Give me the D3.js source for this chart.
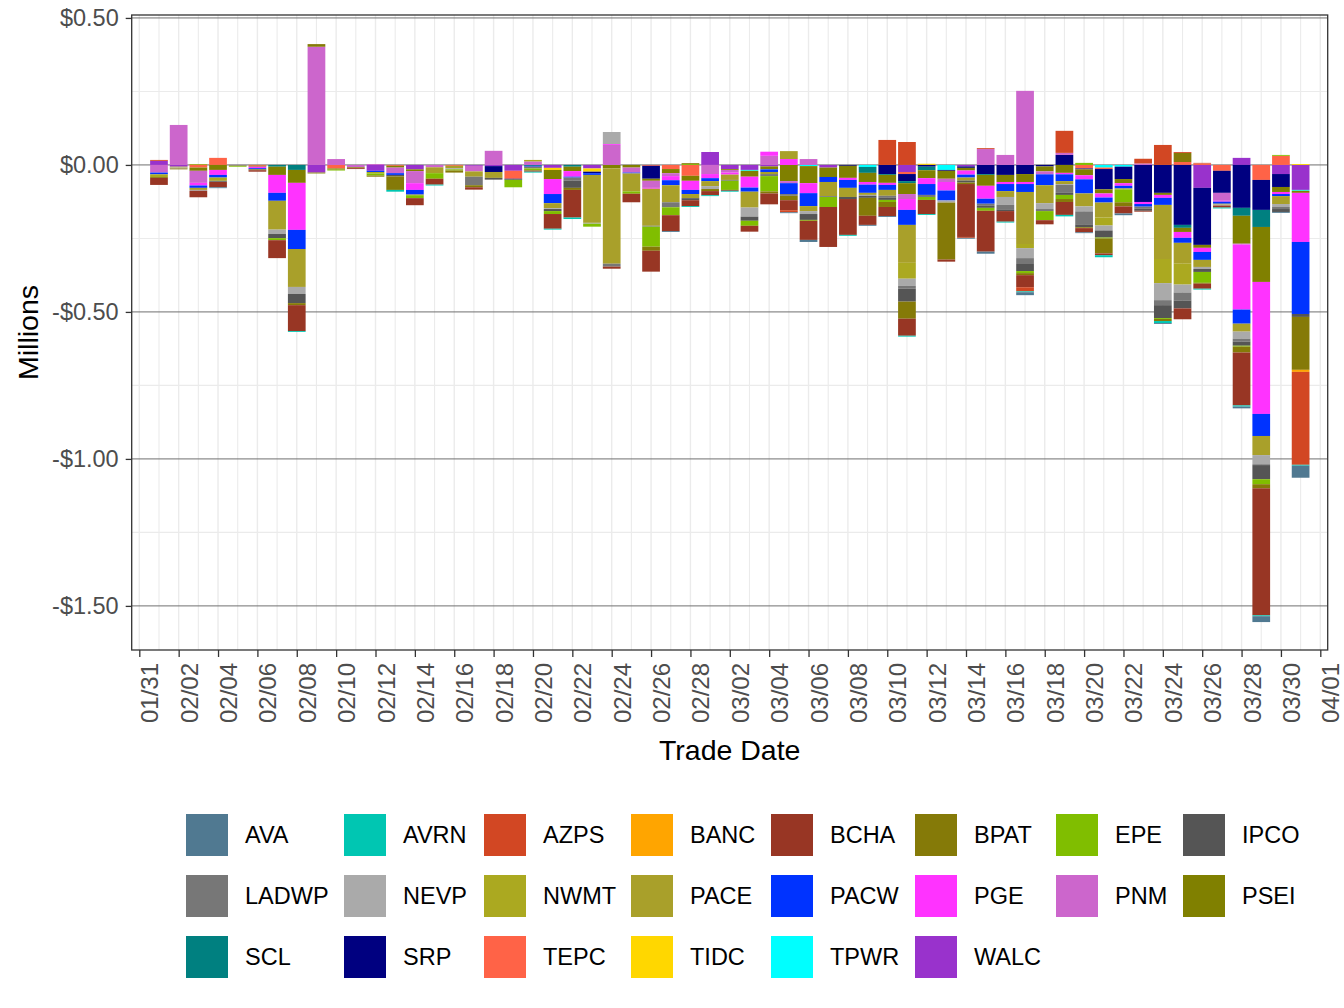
<!DOCTYPE html>
<html><head><meta charset="utf-8">
<script src="https://cdn.jsdelivr.net/npm/d3@7"></script>
<style>
body{margin:0;background:#fff}
svg{display:block}
text{font-family:"Liberation Sans",Arial,Helvetica,sans-serif}
</style>
</head><body>
<svg id="chart" width="1344" height="1008"></svg>
<script>
// ---------------- DATA ----------------
const tradeDates = [
"2023-02-01","2023-02-02","2023-02-03","2023-02-04","2023-02-05","2023-02-06","2023-02-07","2023-02-08","2023-02-09","2023-02-10",
"2023-02-11","2023-02-12","2023-02-13","2023-02-14","2023-02-15","2023-02-16","2023-02-17","2023-02-18","2023-02-19","2023-02-20",
"2023-02-21","2023-02-22","2023-02-23","2023-02-24","2023-02-25","2023-02-26","2023-02-27","2023-02-28","2023-03-01","2023-03-02",
"2023-03-03","2023-03-04","2023-03-05","2023-03-06","2023-03-07","2023-03-08","2023-03-09","2023-03-10","2023-03-11","2023-03-12",
"2023-03-13","2023-03-14","2023-03-15","2023-03-16","2023-03-17","2023-03-18","2023-03-19","2023-03-20","2023-03-21","2023-03-22",
"2023-03-23","2023-03-24","2023-03-25","2023-03-26","2023-03-27","2023-03-28","2023-03-29","2023-03-30","2023-03-31"];

const seriesNames = ["AVA","AVRN","AZPS","BANC","BCHA","BPAT","EPE","IPCO","LADWP","NEVP","NWMT","PACE","PACW","PGE","PNM","PSEI","SCL","SRP","TEPC","TIDC","TPWR","WALC"];
const seriesColors = ["#507991","#00C6B2","#D24723","#FFA500","#983624","#857A08","#80BE00","#555555","#777777","#AAAAAA","#ABA920","#A9A02A","#0033FF","#FF33FF","#CC66CC","#808000","#008080","#000080","#FF6347","#FFD700","#00FFFF","#9932CC"];

// values in $ millions, one entry per trade date
const AVA  = [0,0,0,-0.003,0,0,0,0,0,0, 0,0,0,0,0,0,0,0,0,0, 0,0,0,0,0,0,-0.003,0,0,0, 0,0,-0.003,-0.007,0,0,-0.003,-0.003,0,0, 0,-0.003,-0.007,0,-0.010,0,0,-0.003,0,-0.006, 0,-0.003,0,0,0,-0.006,-0.020,-0.003,-0.041];
const AVRN = [0,0,0,0,0,0,0,-0.003,0,0, 0,0,-0.006,0,-0.003,0,0,0,0,-0.003, -0.003,-0.005,0,0,0,0,0,-0.003,-0.003,-0.003, 0,0,0,0,0,-0.003,0,0,-0.003,-0.003, 0,0,0,-0.003,-0.003,0,-0.005,0,-0.007,0, 0,-0.007,0,-0.003,-0.003,-0.004,-0.003,0,-0.003];
const AZPS = [0.003,0,0,0,0,0,0,0,0,0, 0,0,0,0,0,0,0,0,0,0, 0,0,0,0,0,0,0,0,0,0, 0,0,-0.007,0,0,0,0,0.085,0.078,0, 0,-0.003,0.003,0,-0.014,0,0.075,0,0,0, 0.016,0.068,0.003,0.002,0,0,0,0,-0.316];
const BANC = [0,0,0,0,0,0,0,0,0,0, 0,0,0,0,0,0,0,0,0,0, 0,0,0,0,0,0,0,0,0,0, 0,0,0,0,0,0,0,0,0,0, 0,0,0,0,0,0,0,0,0,0, 0,0,0,0,0,0,0,0,-0.007];
const BCHA = [-0.024,0,-0.022,-0.018,0,-0.005,-0.061,-0.088,0,0, -0.003,0,0,-0.024,-0.020,0,-0.008,0,0,-0.004, -0.050,-0.094,0,-0.007,-0.029,-0.071,-0.054,-0.020,-0.014,-0.003, -0.020,-0.037,-0.034,-0.065,-0.136,-0.122,-0.031,-0.031,-0.058,-0.048, -0.007,-0.180,-0.139,-0.036,-0.041,-0.014,-0.044,-0.014,-0.006,-0.024, -0.003,0,-0.037,-0.017,-0.007,-0.180,-0.432,0,0];
const BPAT = [-0.003,-0.003,0,0,0,-0.003,0,-0.007,0.009,0, -0.003,-0.004,-0.046,0,0,-0.007,-0.007,0,0,0, 0,-0.007,0,0,0,-0.014,0,0.003,-0.007,0, 0,-0.007,-0.015,0,0,0,-0.061,-0.017,-0.058,0, -0.194,-0.005,0,0,-0.007,0,-0.010,-0.003,-0.051,-0.014, 0,-0.007,0.031,-0.003,0,-0.020,-0.014,0,-0.180];
const EPE  = [0,0,0,0,-0.004,0,-0.007,0,0,-0.003, 0,-0.007,0,-0.010,-0.019,-0.004,0,0,-0.026,-0.007, -0.010,0,-0.010,0,-0.008,-0.068,-0.027,0.003,0,-0.031, -0.017,-0.052,0,-0.003,-0.034,0,0,-0.007,0,-0.010, 0,0,-0.010,0,-0.007,-0.031,-0.014,0.007,-0.003,-0.044, 0,-0.003,0,-0.037,0,-0.003,-0.017,0.003,0];
const IPCO = [0,0,0,0,0,0,-0.014,-0.031,0,0, 0,0,-0.005,0,0,0,0,-0.006,0,0, -0.007,-0.025,0,0,0,0,0,-0.007,0,0, -0.014,0,0,-0.020,0,-0.007,-0.007,-0.007,-0.044,0, 0,-0.007,-0.007,-0.004,-0.024,0,-0.007,-0.010,-0.024,0, -0.007,-0.044,-0.027,-0.010,0,-0.014,-0.048,-0.010,-0.010];
const LADWP= [0,0,0,-0.004,0,0,0,0,0,0, 0,0,0,-0.003,0,0,-0.029,0,0,-0.006, 0,-0.010,0,-0.010,0,-0.003,-0.017,0,0,-0.003, 0,-0.007,-0.006,0,-0.003,0,0,-0.007,-0.010,-0.007, 0,0,-0.007,-0.017,-0.020,-0.007,-0.027,-0.044,0,0, -0.007,-0.017,-0.027,0,0,-0.010,-0.003,-0.007,0];
const NEVP = [0,-0.003,-0.003,0,0,0,-0.015,-0.024,0,0, 0,0,0,0,0,-0.004,0,0,0,0, -0.003,0,-0.003,0.041,0,0,0,0,-0.010,0, -0.031,0,0,-0.010,0,0,-0.003,0,-0.024,0, -0.007,0,0,-0.027,-0.034,-0.020,-0.003,-0.017,-0.017,0, 0,-0.058,-0.027,-0.007,-0.003,-0.024,-0.031,-0.010,0];
const NWMT = [-0.009,-0.003,0.003,-0.011,0,0,0,0,0,0, 0,-0.005,0,0,0,0,0,0,0,0.005, 0,0,0,0,0,0,0,0,0,0, 0,0,0,0,0,0,0,0,-0.054,0, 0,0,0,0,-0.014,0,0,0,-0.027,0, 0,-0.082,-0.071,0,0,0,0,0,0];
const PACE = [0,0,-0.007,0,0,0,-0.098,-0.129,0,0, 0,0,0,0,-0.020,-0.008,-0.018,-0.020,0,0, -0.017,0,-0.163,-0.324,-0.061,-0.126,-0.058,-0.014,-0.017,-0.018, -0.054,-0.007,0.027,-0.017,-0.048,-0.031,-0.007,-0.020,-0.129,0, 0,-0.010,0,-0.020,-0.177,-0.061,-0.010,-0.044,-0.051,-0.003, 0,-0.184,-0.071,-0.024,-0.003,-0.027,-0.065,-0.027,0];
const PACW = [-0.006,0,-0.008,-0.009,0,-0.004,-0.027,-0.065,0,0, 0,-0.004,-0.006,-0.015,0,0,0,0,0,-0.003, -0.031,-0.003,-0.006,0,-0.003,0,-0.017,-0.014,-0.010,0, -0.014,-0.009,-0.037,-0.044,-0.017,-0.027,-0.028,-0.017,-0.051,-0.037, -0.034,-0.010,-0.017,-0.024,-0.027,-0.037,-0.023,-0.048,-0.017,-0.009, -0.009,-0.024,-0.017,-0.027,-0.007,-0.048,-0.075,-0.007,-0.245];
const PGE  = [0,0,-0.009,-0.017,0,-0.005,-0.061,-0.160,0,0, 0,0,0,-0.023,0,0,0,0,0,0, -0.051,-0.019,0,0.003,0,-0.003,-0.014,-0.031,-0.014,-0.007, -0.037,0.014,0.020,-0.034,0,-0.007,-0.009,-0.007,-0.037,-0.020, -0.029,-0.014,-0.044,-0.007,-0.007,0,-0.005,-0.014,-0.014,-0.009, -0.007,-0.010,-0.020,-0.014,-0.003,-0.221,-0.449,-0.007,-0.167];
const PNM  = [-0.026,0.136,-0.041,0,0,0,0,0,0.402,0.020, -0.008,0.003,-0.019,-0.041,-0.008,0,-0.019,0.048,0,0.012, 0,0,0,0.068,-0.017,-0.024,-0.010,0,-0.031,-0.009, 0,0.031,-0.007,0.020,0,0,0,0,-0.017,0, -0.011,0,0.054,0.034,0.252,-0.010,0.007,0,0,0, 0.005,0,0,0,-0.027,-0.003,0,0,0];
const PSEI = [0,0,-0.011,-0.017,0,-0.003,-0.028,-0.044,-0.003,-0.004, 0,0,-0.006,-0.006,0,0,0,0,0,0, -0.031,-0.015,0,-0.012,-0.009,-0.007,-0.014,-0.017,0,-0.003, -0.020,-0.010,-0.055,-0.058,-0.032,-0.041,-0.031,-0.027,-0.037,-0.027, -0.027,-0.009,-0.037,-0.024,-0.027,-0.017,-0.027,-0.020,-0.014,-0.014, 0,-0.007,-0.014,-0.010,0,-0.095,-0.187,-0.017,-0.007];
const SCL  = [0,0,0,0,0,0,-0.006,-0.017,0,0, 0,0,0,0,0,0,0,0,0,-0.003, 0,-0.006,0,0,0,0,0,0,0,0, 0,0,0,0,0,0,-0.020,-0.003,-0.007,-0.012, 0,0,-0.003,0,0,0,0,0,0,0, 0,0,-0.010,0,0,-0.027,-0.058,0,0];
const SRP  = [0,0,0,0,0,0,0,0,0,0, 0,0,0,0,0,0,0,-0.020,-0.003,0, 0,0,-0.005,0,0,-0.044,0,0,0,0, 0,0,0,0,0,-0.003,0,-0.031,-0.024,-0.006, -0.003,-0.005,-0.031,-0.034,-0.031,-0.005,0.034,-0.003,-0.069,-0.042, -0.126,-0.095,-0.204,-0.194,-0.075,-0.146,-0.102,-0.044,0];
const TEPC = [0,0,-0.009,0.024,0,-0.003,0,0,0,-0.012, 0,0,-0.003,0,0,-0.003,0,0,-0.027,0, 0,0,0,0,0,-0.003,-0.014,-0.037,0,0, 0,0,0,0,0,0,0,0,-0.007,0, 0,0,0,0,0,0,0,-0.012,-0.005,0, 0,0,0.010,0.005,-0.020,0,-0.051,0.031,0];
const TIDC = [0,0,0,0,0,0,0,0,0,0, 0,0,0,0,0,0,0,0,0,0, -0.007,0,-0.011,0,0,0,0,0,0,0, 0,0,0,0,0,0,0,0,0,0.004, 0,0,0,0,0,0,0,0,0,0, 0,0,0,0,0,0,0,0,0.003];
const TPWR = [0,0,0,0,0,0,0,0,0,0, 0,0,0,0,0,0,0,0,0,0, 0,0,0,0,0,0,0,0,0,0, -0.003,0,0,-0.004,0,0,-0.007,0,0,0, -0.017,0,0,0,0,0,0,0,-0.009,-0.006, 0,0,0,0,0,0,0,0,-0.003];
const WALC = [0.014,-0.006,0,0,-0.002,0,0,0,-0.026,0, 0,-0.020,0,-0.015,0,0,-0.003,-0.004,-0.020,0, -0.010,0,-0.012,0,0,0,0,0,0.044,-0.014, -0.017,-0.005,0,0,-0.009,0,0,0,-0.024,0, 0,-0.005,0,0,0,0,0,0,0,0, 0,0,0,-0.078,0,0.024,0,-0.031,-0.085];

const seriesValues = [AVA,AVRN,AZPS,BANC,BCHA,BPAT,EPE,IPCO,LADWP,NEVP,NWMT,PACE,PACW,PGE,PNM,PSEI,SCL,SRP,TEPC,TIDC,TPWR,WALC];

const yTickValues = [0.5, 0, -0.5, -1, -1.5];
const yTickLabels = ["$0.50","$0.00","-$0.50","-$1.00","-$1.50"];
const xAxisStart = "2023-01-31", xAxisEnd = "2023-04-01";

// ---------------- LAYOUT ----------------
const svg = d3.select("#chart");
const P = {left:131.7, right:1327.7, top:15, bottom:650};
const parse = d3.utcParse("%Y-%m-%d");
const x = d3.scaleUtc().domain([parse(xAxisStart), parse(xAxisEnd)]).range([139.3, 1320.3]);
const dayW = x(parse("2023-02-02")) - x(parse("2023-02-01"));
const barW = dayW * 0.9;
const y = d3.scaleLinear().domain([-1.65, 0.51]).range([P.bottom, P.top]);

svg.append("rect").attr("width",1344).attr("height",1008).attr("fill","#fff");

// grid
const grid = svg.append("g");
const xMajor = d3.utcDay.range(parse(xAxisStart), d3.utcDay.offset(parse(xAxisEnd),1), 2);
const xMinor = xMajor.map(d => d3.utcDay.offset(d,1)).filter(d => d < parse(xAxisEnd));
grid.selectAll(".vmin").data(xMinor).join("line")
  .attr("x1",d=>x(d)).attr("x2",d=>x(d)).attr("y1",P.top).attr("y2",P.bottom)
  .attr("stroke","#EBEBEB").attr("stroke-width",1.1);
grid.selectAll(".vmaj").data(xMajor).join("line")
  .attr("x1",d=>x(d)).attr("x2",d=>x(d)).attr("y1",P.top).attr("y2",P.bottom)
  .attr("stroke","#EBEBEB").attr("stroke-width",1.4);
const yMinor = [0.25,-0.25,-0.75,-1.25];
grid.selectAll(".hmin").data(yMinor).join("line")
  .attr("x1",P.left).attr("x2",P.right).attr("y1",d=>y(d)).attr("y2",d=>y(d))
  .attr("stroke","#EBEBEB").attr("stroke-width",1.1);
grid.selectAll(".hmaj").data(yTickValues).join("line")
  .attr("x1",P.left).attr("x2",P.right).attr("y1",d=>y(d)).attr("y2",d=>y(d))
  .attr("stroke","#707070").attr("stroke-width",1);

// stacked bars
const rows = tradeDates.map((d,i) => {
  const r = {date: parse(d)};
  seriesNames.forEach((n,j) => r[n] = seriesValues[j][i]);
  return r;
});
const stackKeys = seriesNames.slice().reverse();   // WALC nearest zero, AVA farthest
const layers = d3.stack().keys(stackKeys).offset(d3.stackOffsetDiverging)(rows);
const color = d3.scaleOrdinal().domain(seriesNames).range(seriesColors);

const bars = svg.append("g");
layers.forEach(layer => {
  bars.append("g").attr("fill", color(layer.key))
    .selectAll("rect").data(layer.filter(d => d[1] !== d[0])).join("rect")
    .attr("x", d => x(d.data.date) - barW/2)
    .attr("width", barW)
    .attr("y", d => y(Math.max(d[0],d[1])))
    .attr("height", d => Math.abs(y(d[0]) - y(d[1])));
});

// panel border
svg.append("rect").attr("x",P.left).attr("y",P.top).attr("width",P.right-P.left).attr("height",P.bottom-P.top)
  .attr("fill","none").attr("stroke","#333333").attr("stroke-width",1.3);

// axes
const yAxis = svg.append("g").attr("transform",`translate(${P.left},0)`)
  .call(d3.axisLeft(y).tickValues(yTickValues).tickFormat((d,i)=>yTickLabels[i]).tickSize(6).tickPadding(7));
yAxis.select(".domain").remove();
yAxis.selectAll(".tick line").attr("stroke","#333333").attr("stroke-width",1.3);
yAxis.selectAll(".tick text").attr("fill","#4D4D4D").attr("font-size",23.5)
  .attr("font-family","Liberation Sans, Arial, sans-serif");

const xAxis = svg.append("g").attr("transform",`translate(0,${P.bottom})`)
  .call(d3.axisBottom(x).tickValues(xMajor).tickFormat(d3.utcFormat("%m/%d")).tickSize(7));
xAxis.select(".domain").remove();
xAxis.selectAll(".tick line").attr("stroke","#333333").attr("stroke-width",1.3);
xAxis.selectAll(".tick text").attr("fill","#4D4D4D").attr("font-size",24)
  .attr("font-family","Liberation Sans, Arial, sans-serif")
  .attr("transform","rotate(-90)").attr("x",-13).attr("y",18.5).attr("dy",0)
  .attr("text-anchor","end");

// titles
svg.append("text").attr("x",(P.left+P.right)/2).attr("y",760).attr("text-anchor","middle")
  .attr("font-size",28.5).attr("fill","#000").text("Trade Date");
svg.append("text").attr("transform",`translate(38,${(P.top+P.bottom)/2}) rotate(-90)`)
  .attr("text-anchor","middle").attr("font-size",28.5).attr("fill","#000").text("Millions");

// legend (3 rows x 8 columns, by row)
const colX = [186, 344, 484, 631, 771, 915, 1056, 1183];
const rowY = [814, 875, 936];
const legend = svg.append("g");
seriesNames.forEach((n,i) => {
  const c = i % 8, r = Math.floor(i / 8);
  const g = legend.append("g").attr("transform",`translate(${colX[c]},${rowY[r]})`);
  g.append("rect").attr("width",42).attr("height",42).attr("fill",color(n));
  g.append("text").attr("x",59).attr("y",21).attr("dy","0.35em").attr("font-size",23.5)
    .attr("fill","#000").text(n);
});
</script>
</body></html>
